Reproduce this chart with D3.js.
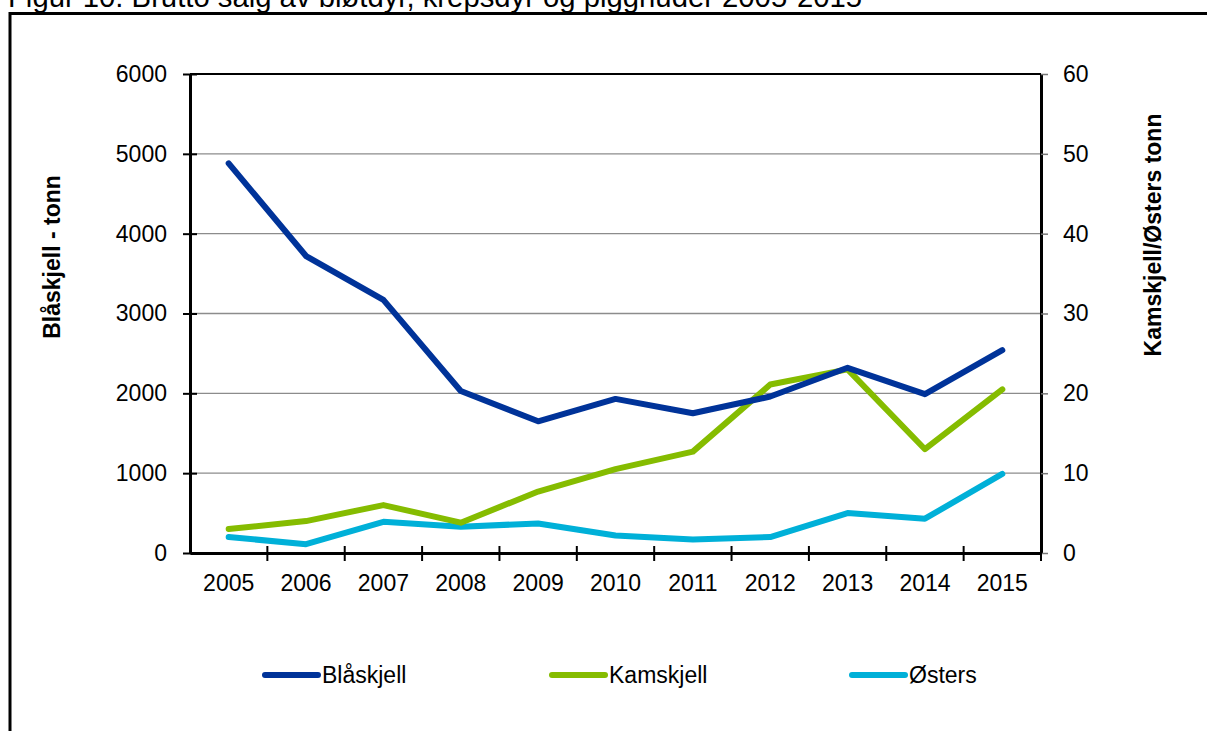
<!DOCTYPE html>
<html>
<head>
<meta charset="utf-8">
<script src="https://cdn.jsdelivr.net/npm/d3@7"></script>
<style>
  body { margin: 0; background: #fff; }
  svg { display: block; font-family: "Liberation Sans", Arial, sans-serif; }
</style>
</head>
<body>
<div id="chart"></div>
<script>
// data
let years = ["2005", "2006", "2007", "2008", "2009", "2010", "2011", "2012", "2013", "2014", "2015"];
let blaskjell = [4880, 3720, 3170, 2030, 1650, 1930, 1750, 1960, 2320, 1990, 2540];
let kamskjell = [3.0, 4.0, 6.0, 3.8, 7.7, 10.5, 12.7, 21.1, 23.0, 13.0, 20.5];
let osters = [2.0, 1.1, 3.9, 3.3, 3.7, 2.2, 1.7, 2.0, 5.0, 4.3, 9.9];
let leftTicks = [0, 1000, 2000, 3000, 4000, 5000, 6000];
let rightTicks = [0, 10, 20, 30, 40, 50, 60];

let W = 1207, H = 731;
let margin = {top: 74, right: 166, bottom: 178, left: 190},
    width = W - margin.left - margin.right,
    height = H - margin.top - margin.bottom;

let svg = d3.select("#chart").append("svg")
    .attr("width", W)
    .attr("height", H);

// title, cut off by the top of the page
svg.append("text")
    .attr("x", 8)
    .attr("y", 7)
    .attr("textLength", 854)
    .attr("lengthAdjust", "spacingAndGlyphs")
    .style("font-size", "29px")
    .text("Figur 10. Brutto salg av bløtdyr, krepsdyr og pigghuder 2005-2015");

// outer frame
svg.append("path")
    .attr("d", "M10,740 L10,13.5 L1220,13.5")
    .attr("fill", "none")
    .attr("stroke", "#000")
    .attr("stroke-width", 3);

let g = svg.append("g")
    .attr("transform", "translate(" + margin.left + "," + margin.top + ")");

let x = d3.scaleBand().domain(years).range([0, width]);
let yL = d3.scaleLinear().domain([0, 6000]).range([height, 0]);
let yR = d3.scaleLinear().domain([0, 60]).range([height, 0]);

// gridlines
g.selectAll(".grid")
    .data(leftTicks.slice(1, -1))
    .enter()
    .append("line")
    .attr("x1", 0)
    .attr("x2", width)
    .attr("y1", d => yL(d))
    .attr("y2", d => yL(d))
    .attr("stroke", "#8c8c8c")
    .attr("stroke-width", 1.3);

// top border
g.append("line")
    .attr("x1", 0).attr("x2", width)
    .attr("y1", 0).attr("y2", 0)
    .attr("stroke", "#000").attr("stroke-width", 2);

// left axis
let axL = g.append("g")
    .call(d3.axisLeft(yL).tickValues(leftTicks).tickFormat(d3.format("d"))
        .tickSize(7).tickPadding(16).tickSizeOuter(0));
axL.select(".domain").attr("stroke-width", 3);
axL.selectAll(".tick line").attr("stroke-width", 2).attr("x2", -7).attr("x1", 7);
axL.selectAll("text").style("font-size", "23px").attr("fill", "#000");

// right axis
let axR = g.append("g")
    .attr("transform", "translate(" + width + ",0)")
    .call(d3.axisRight(yR).tickValues(rightTicks).tickSize(7).tickPadding(15).tickSizeOuter(0));
axR.select(".domain").attr("stroke-width", 3);
axR.selectAll(".tick line").attr("stroke", "#777").attr("stroke-width", 1.5);
axR.selectAll("text").style("font-size", "23px").attr("fill", "#000");

// bottom axis, ticks on category boundaries
let axB = g.append("g")
    .attr("transform", "translate(0," + height + ")")
    .call(d3.axisBottom(x).tickSize(0).tickPadding(22));
axB.select(".domain").attr("stroke-width", 3);
axB.selectAll("text").style("font-size", "23px").attr("fill", "#000");
axB.selectAll(".bound")
    .data(years.slice(1).concat(["end"]))
    .enter()
    .append("line")
    .attr("class", "bound")
    .attr("x1", (d, i) => x.step() * (i + 1))
    .attr("x2", (d, i) => x.step() * (i + 1))
    .attr("y1", -7)
    .attr("y2", 8)
    .attr("stroke", "#000")
    .attr("stroke-width", 2);

// axis titles
svg.append("text")
    .attr("transform", "translate(60,257) rotate(-90)")
    .style("text-anchor", "middle")
    .style("font-size", "23px")
    .style("font-weight", "bold")
    .text("Blåskjell - tonn");

svg.append("text")
    .attr("transform", "translate(1161,235) rotate(-90)")
    .style("text-anchor", "middle")
    .style("font-size", "23px")
    .style("font-weight", "bold")
    .text("Kamskjell/Østers tonn");

// lines
let series = [
    {name: "Blåskjell", values: blaskjell, scale: yL, color: "#003399"},
    {name: "Kamskjell", values: kamskjell, scale: yR, color: "#85bc00"},
    {name: "Østers", values: osters, scale: yR, color: "#00b0d8"}
];

series.slice().reverse().forEach(function(s){
    let line = d3.line()
        .x((d, i) => x(years[i]) + x.bandwidth() / 2)
        .y(d => s.scale(d));
    g.append("path")
        .datum(s.values)
        .attr("fill", "none")
        .attr("stroke", s.color)
        .attr("stroke-width", 6)
        .attr("stroke-linecap", "round")
        .attr("stroke-linejoin", "round")
        .attr("d", line);
});

// legend
let legendX = [262, 549, 849];
let legend = svg.selectAll(".legend")
    .data(series)
    .enter()
    .append("g")
    .attr("transform", (d, i) => "translate(" + legendX[i] + ",675)");
legend.append("line")
    .attr("x1", 3).attr("x2", 56)
    .attr("stroke", d => d.color)
    .attr("stroke-width", 6)
    .attr("stroke-linecap", "round");
legend.append("text")
    .attr("x", 60)
    .attr("y", 8)
    .style("font-size", "23px")
    .text(d => d.name);
</script>
</body>
</html>
